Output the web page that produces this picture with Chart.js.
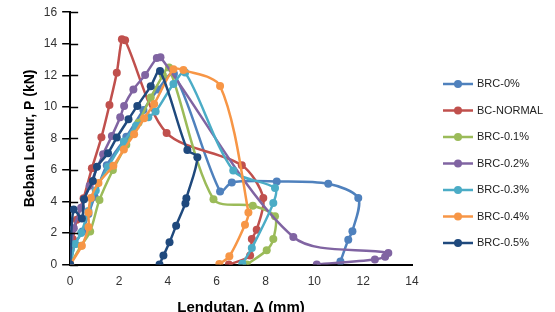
<!DOCTYPE html>
<html>
<head>
<meta charset="utf-8">
<script src="https://cdn.jsdelivr.net/npm/chart.js@4.4.1/dist/chart.umd.min.js"></script>
<style>
  html, body { margin: 0; padding: 0; background: #fff; overflow: hidden; }
  #wrap { position: relative; width: 555px; height: 312px; }
  #cap {
    position: absolute; top: -24px; left: 110px; white-space: nowrap; line-height: 23px;
    font-family: "Liberation Serif", serif; font-size: 20px; color: #000;
  }
</style>
</head>
<body>
<div id="wrap">
  <div id="cap">Hubungan beban dan lendutan pada balok</div>
  <canvas id="chart" width="555" height="312"></canvas>
</div>
<script>
// Series names and colours (Excel palette)
const seriesNames  = ['BRC-0%', 'BC-NORMAL', 'BRC-0.1%', 'BRC-0.2%', 'BRC-0.3%', 'BRC-0.4%', 'BRC-0.5%'];
const seriesColors = ['#4F81BD', '#C0504D', '#9BBB59', '#8064A2', '#4BACC6', '#F79646', '#1F497D'];

// Deflection (mm) / load (kN) pairs
const brc0x = [0, 0.2, 0.5, 0.75, 1.0, 1.5, 2.3, 3.0, 3.6, 4.25, 6.14, 6.62, 8.46, 10.57, 11.8, 11.56, 11.39, 11.07];
const brc0y = [0, 1.3, 2.1, 3.2, 4.3, 6.3, 8.1, 9.8, 11.1, 12.1, 4.64, 5.21, 5.27, 5.12, 4.22, 2.11, 1.58, 0.2];

const normalX = [0, 0.11, 0.27, 0.55, 0.89, 1.28, 1.61, 1.91, 2.12, 2.25, 3.95, 7.03, 7.91, 7.64, 7.44, 7.37, 6.5];
const normalY = [0, 1.6, 2.85, 4.2, 6.1, 8.07, 10.12, 12.16, 14.28, 14.22, 8.35, 6.3, 4.22, 2.21, 1.62, 0.57, 0];

const brc01x = [0, 0.45, 0.82, 1.2, 1.75, 2.3, 2.8, 3.3, 3.8, 4.05, 5.87, 7.48, 8.39, 8.32, 8.05, 7.23];
const brc01y = [0, 1.2, 2.1, 4.1, 6.0, 7.6, 9.0, 10.6, 12.0, 12.5, 4.15, 3.73, 3.06, 1.62, 0.91, 0];

const brc02x = [0, 0.15, 0.45, 0.8, 1.35, 1.71, 2.05, 2.21, 2.59, 3.07, 3.55, 3.7, 9.14, 13.03, 12.9, 12.48, 10.1];
const brc02y = [0, 2.3, 3.6, 5.0, 7.0, 8.16, 9.34, 10.06, 11.1, 12.02, 13.1, 13.15, 1.75, 0.74, 0.5, 0.32, 0];

const brc03x = [0, 0.2, 0.45, 0.75, 1.05, 1.55, 2.2, 2.7, 3.2, 3.5, 4.23, 4.71, 6.68, 8.39, 8.32, 7.44, 7.05];
const brc03y = [0, 1.3, 2.0, 3.4, 4.7, 6.2, 7.8, 8.8, 9.34, 9.7, 11.45, 12.17, 5.97, 4.85, 3.9, 1.05, 0.05];

const brc04x = [0, 0.48, 0.75, 0.75, 0.85, 1.16, 1.77, 2.2, 2.62, 3.03, 3.44, 4.23, 4.64, 6.14, 7.3, 7.16, 6.52, 6.11];
const brc04y = [0, 1.2, 2.38, 3.31, 4.22, 5.17, 6.26, 7.3, 8.26, 9.28, 10.18, 12.38, 12.33, 11.32, 3.31, 2.53, 0.53, 0.04];

const brc05x = [0, 0.14, 0.48, 0.57, 0.93, 1.1, 1.55, 1.91, 2.39, 2.75, 3.3, 3.68, 4.8, 5.21, 4.76, 4.72, 4.34, 4.07, 3.82, 3.66];
const brc05y = [0, 3.5, 2.92, 4.15, 5.3, 6.2, 7.06, 8.05, 9.21, 10.06, 11.3, 12.27, 7.27, 6.81, 4.2, 3.88, 2.47, 1.41, 0.57, 0];

const xList = [brc0x, normalX, brc01x, brc02x, brc03x, brc04x, brc05x];
const yList = [brc0y, normalY, brc01y, brc02y, brc03y, brc04y, brc05y];

const xTicks = [0, 2, 4, 6, 8, 10, 12, 14];
const yTicks = [0, 2, 4, 6, 8, 10, 12, 14, 16];

const datasets = seriesNames.map((name, i) => ({
  label: name,
  data: xList[i].map((x, k) => ({ x, y: yList[i][k] })),
  borderColor: seriesColors[i],
  backgroundColor: seriesColors[i],
  borderWidth: 2.5,
  pointRadius: 4,
  pointBorderWidth: 0,
  pointHoverRadius: 4,
  tension: 0.3,
  showLine: true,
  order: seriesNames.length - i,   // later series on top, like Excel
}));

// y ticks in Excel cross the axis: draw the inner half
const crossTicks = {
  id: 'crossTicks',
  afterDraw(chart) {
    const { ctx, scales: { y }, chartArea } = chart;
    ctx.save();
    ctx.strokeStyle = '#000';
    ctx.lineWidth = 1.5;
    yTicks.forEach(v => {
      const py = Math.round(y.getPixelForValue(v)) + 0.5;
      ctx.beginPath();
      ctx.moveTo(chartArea.left, py);
      ctx.lineTo(chartArea.left + 8, py);
      ctx.stroke();
    });
    ctx.restore();
  }
};

// legend on the right: line with a dot, then name
const sideLegend = {
  id: 'sideLegend',
  afterDraw(chart) {
    const { ctx } = chart;
    ctx.save();
    ctx.font = '11px "Liberation Sans", Arial, sans-serif';
    ctx.textBaseline = 'middle';
    seriesNames.forEach((name, i) => {
      const y = 84 + i * 26.5;
      ctx.strokeStyle = seriesColors[i];
      ctx.fillStyle = seriesColors[i];
      ctx.lineWidth = 2.5;
      ctx.beginPath();
      ctx.moveTo(443, y);
      ctx.lineTo(473, y);
      ctx.stroke();
      ctx.beginPath();
      ctx.arc(458, y, 4, 0, Math.PI * 2);
      ctx.fill();
      ctx.fillStyle = '#222';
      ctx.fillText(name, 477, y);
    });
    ctx.restore();
  }
};

new Chart(document.getElementById('chart'), {
  type: 'scatter',
  data: { datasets },
  options: {
    responsive: false,
    animation: false,
    layout: { padding: { left: 22, right: 143, top: 12, bottom: -5 } },
    plugins: {
      legend: { display: false },
      tooltip: { enabled: false },
    },
    scales: {
      x: {
        type: 'linear',
        min: 0, max: 14,
        afterBuildTicks: (s) => { s.ticks = xTicks.map(v => ({ value: v })); },
        grid: { display: false, drawTicks: false },
        border: { display: true, color: '#000', width: 2 },
        ticks: {
          padding: 10,
          color: '#333',
          font: { family: '"Liberation Sans", Arial, sans-serif', size: 12 },
        },
        title: {
          display: true,
          text: 'Lendutan, Δ (mm)',
          color: '#000',
          font: { family: '"Liberation Sans", Arial, sans-serif', size: 15, weight: 'bold' },
          padding: { top: 0, bottom: 0 },
        },
      },
      y: {
        type: 'linear',
        min: 0, max: 16,
        afterBuildTicks: (s) => { s.ticks = yTicks.map(v => ({ value: v })); },
        grid: { drawOnChartArea: false, drawTicks: true, tickLength: 8, color: '#000', lineWidth: 1.5 },
        border: { display: true, color: '#000', width: 2 },
        ticks: {
          padding: 5,
          color: '#333',
          font: { family: '"Liberation Sans", Arial, sans-serif', size: 12 },
        },
        title: {
          display: true,
          text: 'Beban Lentur, P (kN)',
          color: '#000',
          font: { family: '"Liberation Sans", Arial, sans-serif', size: 14, weight: 'bold' },
          padding: { top: 0, bottom: 0 },
        },
      },
    },
  },
  plugins: [crossTicks, sideLegend],
});
</script>
</body>
</html>
